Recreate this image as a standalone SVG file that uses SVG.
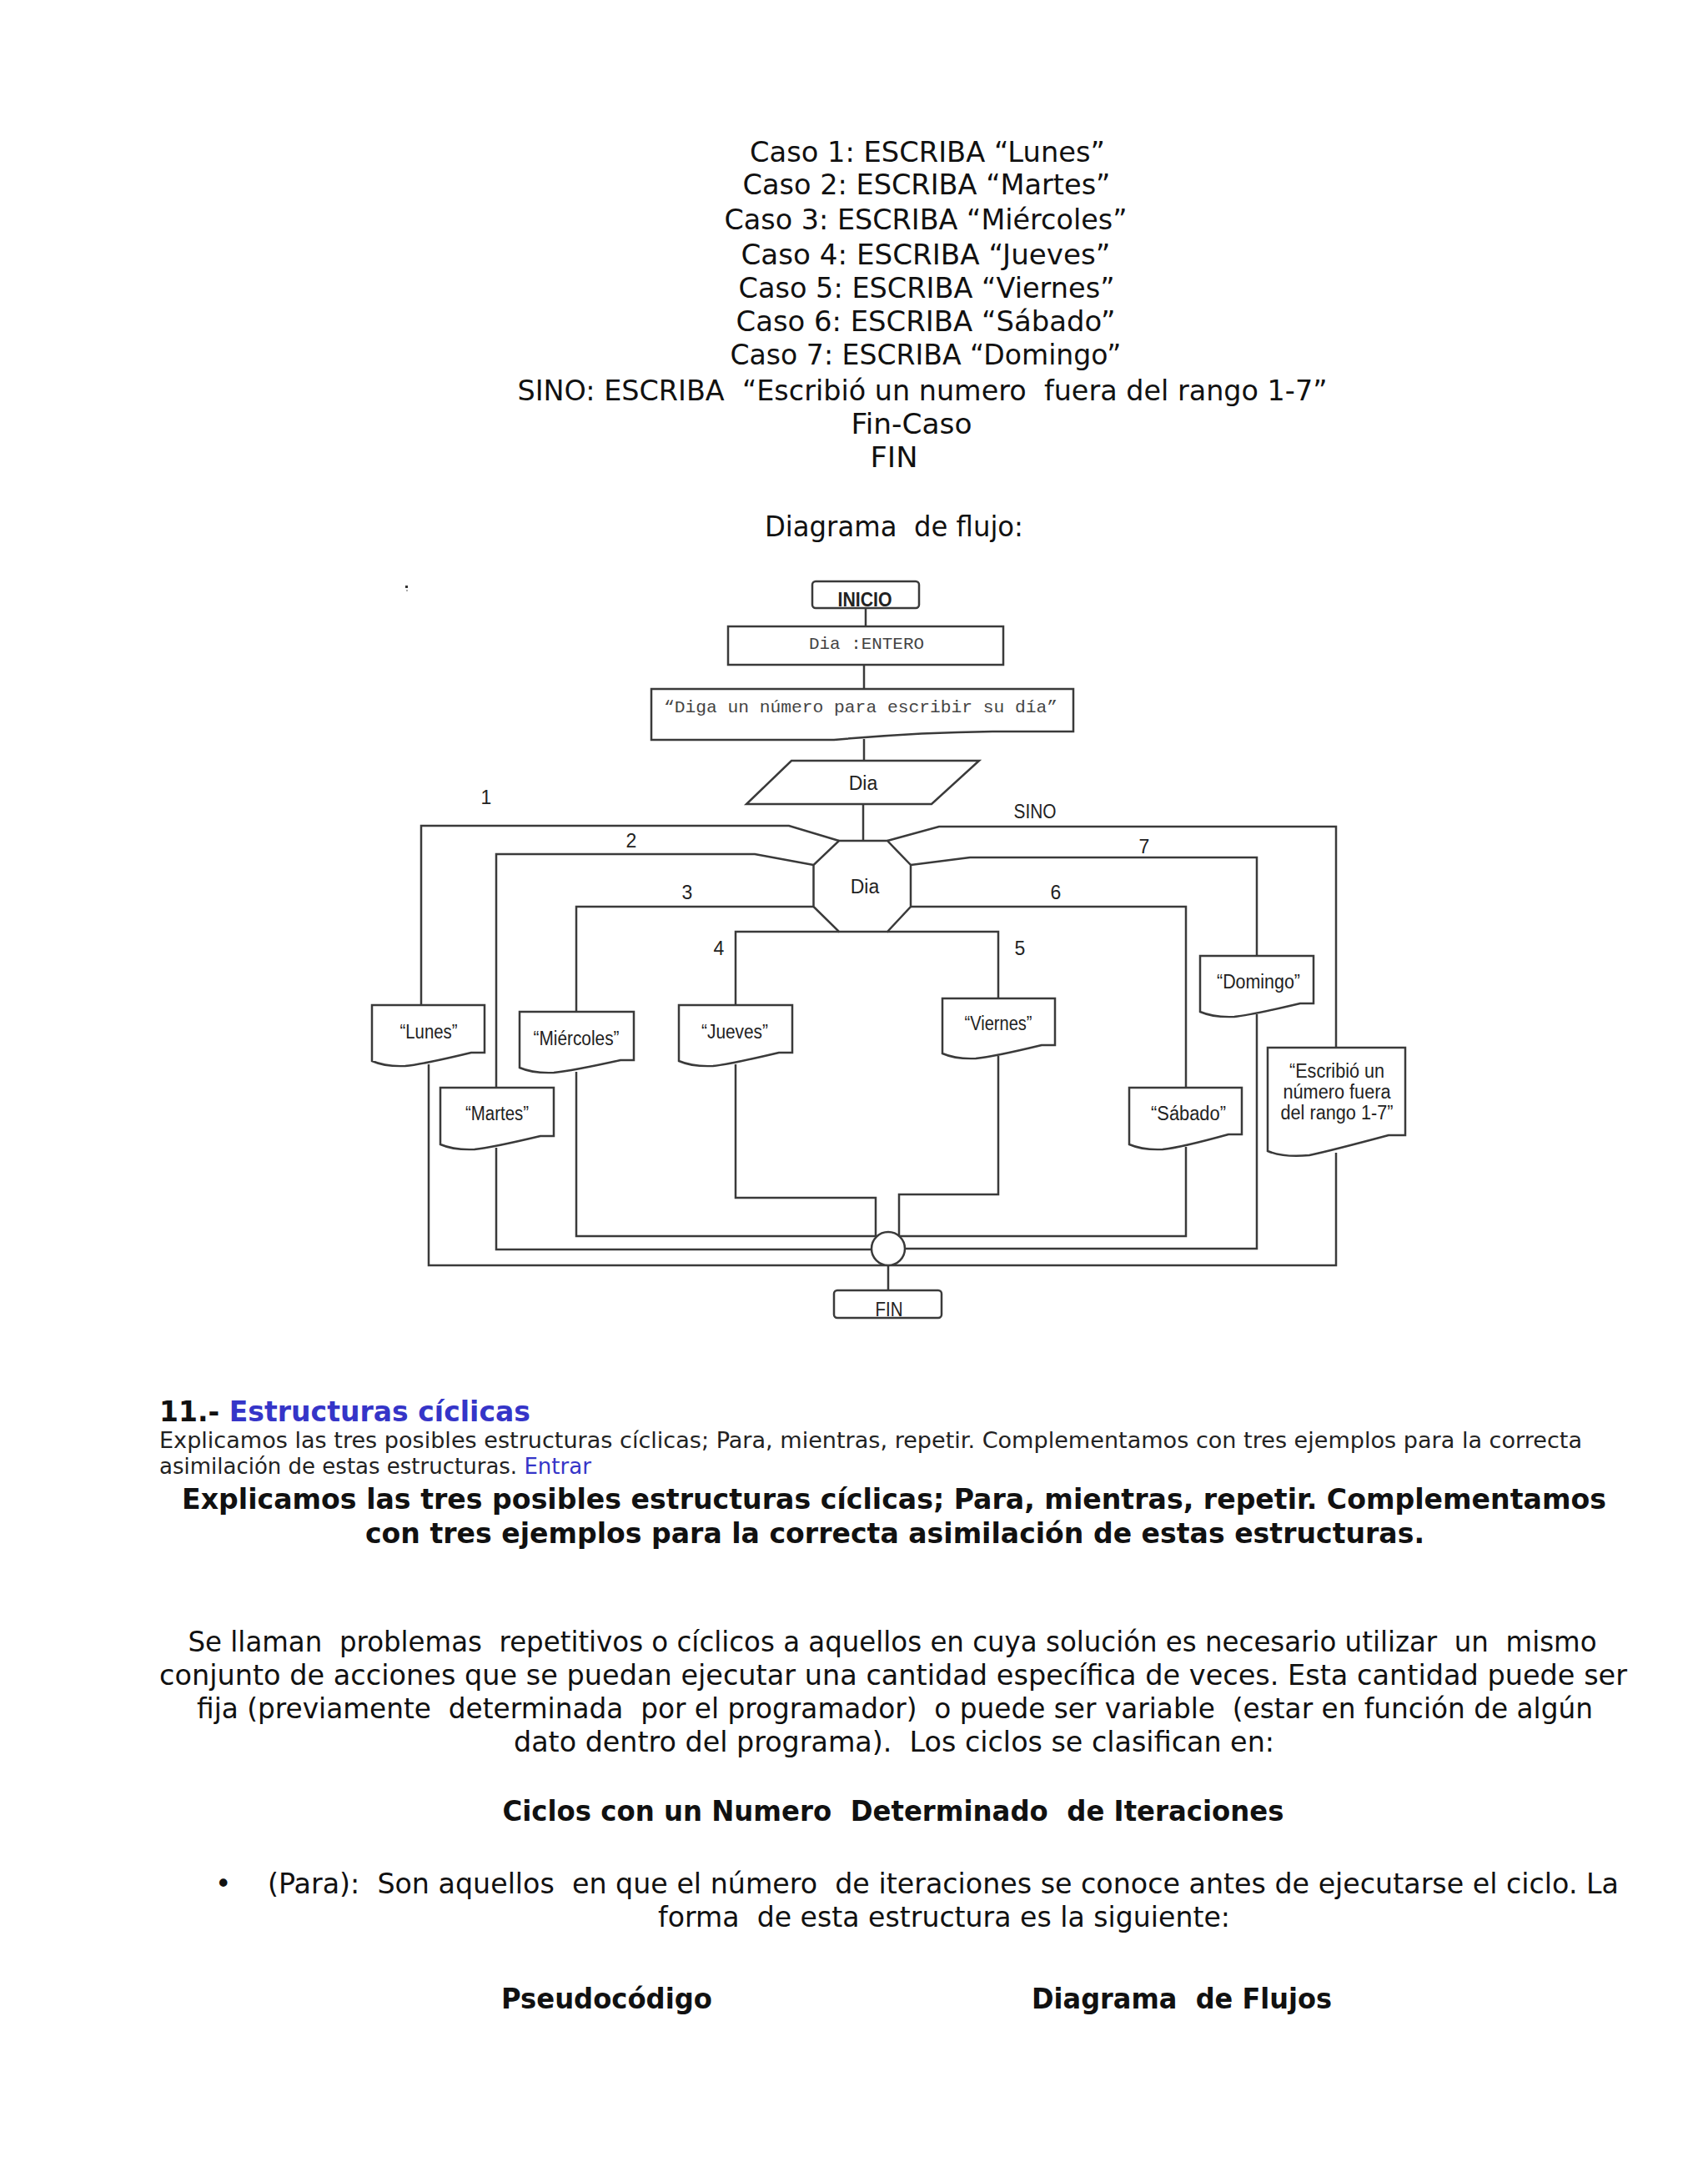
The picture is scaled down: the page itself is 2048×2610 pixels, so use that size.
<svg xmlns="http://www.w3.org/2000/svg" width="2048" height="2610" viewBox="0 0 2048 2610">
<style>
.body{font-family:"DejaVu Sans","Verdana",sans-serif;font-size:33px;fill:#111;}
.bold{font-family:"DejaVu Sans","Verdana",sans-serif;font-size:33px;font-weight:bold;fill:#111;}
.small{font-family:"DejaVu Sans","Verdana",sans-serif;font-size:26px;fill:#222;}
.blue{fill:#3535c8;}
.lbl{font-family:"Liberation Sans",Arial,sans-serif;font-size:23px;fill:#222;text-anchor:middle;}
.mono{font-family:"Liberation Mono","Courier New",monospace;font-size:21px;fill:#444;text-anchor:middle;}
.shape{fill:#fff;stroke:#3a3a3a;stroke-width:2.5;}
.wire{fill:none;stroke:#3a3a3a;stroke-width:2.5;}
.mid{text-anchor:middle;}
</style>
<rect width="2048" height="2610" fill="#fff"/>

<g id="pseudocode">
<text class="body mid" x="1112" y="194" textLength="426" lengthAdjust="spacingAndGlyphs">Caso 1: ESCRIBA “Lunes”</text>
<text class="body mid" x="1111" y="233" textLength="441" lengthAdjust="spacingAndGlyphs">Caso 2: ESCRIBA “Martes”</text>
<text class="body mid" x="1110" y="275" textLength="483" lengthAdjust="spacingAndGlyphs">Caso 3: ESCRIBA “Miércoles”</text>
<text class="body mid" x="1110" y="317" textLength="443" lengthAdjust="spacingAndGlyphs">Caso 4: ESCRIBA “Jueves”</text>
<text class="body mid" x="1111" y="357" textLength="451" lengthAdjust="spacingAndGlyphs">Caso 5: ESCRIBA “Viernes”</text>
<text class="body mid" x="1110" y="397" textLength="455" lengthAdjust="spacingAndGlyphs">Caso 6: ESCRIBA “Sábado”</text>
<text class="body mid" x="1110" y="437" textLength="469" lengthAdjust="spacingAndGlyphs">Caso 7: ESCRIBA “Domingo”</text>
<text class="body mid" x="1106" y="480" textLength="971" lengthAdjust="spacingAndGlyphs" xml:space="preserve">SINO: ESCRIBA  “Escribió un numero  fuera del rango 1-7”</text>
<text class="body mid" x="1093" y="520" textLength="145" lengthAdjust="spacingAndGlyphs">Fin-Caso</text>
<text class="body mid" x="1072" y="560" textLength="57" lengthAdjust="spacingAndGlyphs">FIN</text>
<text class="body mid" x="1072" y="643" textLength="310" lengthAdjust="spacingAndGlyphs" xml:space="preserve">Diagrama  de flujo:</text>
</g>

<rect x="486" y="702" width="3" height="3" fill="#333"/>
<rect x="487" y="707" width="2" height="2" fill="#aaa"/>

<g id="connectors">
<path class="wire" d="M1038,729 V751"/>
<path class="wire" d="M1036,797 V826"/>
<path class="wire" d="M1036,886 V912"/>
<path class="wire" d="M1035,964 V1008"/>
<path class="wire" d="M1006,1008 L946,990 H505 V1205"/>
<path class="wire" d="M975.5,1037 L905,1024 H595 V1304"/>
<path class="wire" d="M975.5,1087 H691 V1213"/>
<path class="wire" d="M1006,1117 H882 V1205"/>
<path class="wire" d="M1064,1117 H1197 V1197"/>
<path class="wire" d="M1092,1087 H1422 V1304"/>
<path class="wire" d="M1092,1037 L1163,1028 H1507 V1146"/>
<path class="wire" d="M1064,1008 L1126,991 H1602 V1256"/>
<path class="wire" d="M514,1276 V1517 H1065"/>
<path class="wire" d="M595,1376 V1498 H1065"/>
<path class="wire" d="M691,1285 V1482 H1065"/>
<path class="wire" d="M882,1276 V1436 H1050 V1482"/>
<path class="wire" d="M1197,1266 V1432 H1078 V1482"/>
<path class="wire" d="M1422,1375 V1482 H1065"/>
<path class="wire" d="M1507,1216 V1497 H1065"/>
<path class="wire" d="M1602,1382 V1517 H1065"/>
<path class="wire" d="M1065,1517 V1547"/>
<text class="lbl" x="583" y="964">1</text>
<text class="lbl" x="757" y="1016">2</text>
<text class="lbl" x="824" y="1078">3</text>
<text class="lbl" x="862" y="1145">4</text>
<text class="lbl" x="1223" y="1145">5</text>
<text class="lbl" x="1266" y="1078">6</text>
<text class="lbl" x="1372" y="1023">7</text>
<text class="lbl" x="1241" y="981" textLength="51" lengthAdjust="spacingAndGlyphs">SINO</text>
</g>

<g id="inicio">
<rect class="shape" x="974" y="697" width="128" height="32" rx="4"/>
<text class="lbl" x="1037" y="727" font-weight="bold" textLength="65" lengthAdjust="spacingAndGlyphs" style="font-size:24px">INICIO</text>
</g>
<g id="declaracion">
<rect class="shape" x="873" y="751" width="330" height="46"/>
<text class="mono" x="1039" y="778" textLength="138" lengthAdjust="spacingAndGlyphs">Dia :ENTERO</text>
</g>
<g id="mensaje">
<path class="shape" d="M781,826 H1287 V877 H1190 Q1100,878 1000,887 H781 Z"/>
<text class="mono" x="1032" y="854" textLength="472" lengthAdjust="spacingAndGlyphs">“Diga un número para escribir su día”</text>
</g>
<g id="leer">
<path class="shape" d="M949,912 H1174 L1117,964 H895 Z"/>
<text class="lbl" x="1035" y="947">Dia</text>
</g>
<g id="segun">
<path class="shape" d="M1006,1008 H1064 L1092,1037 V1087 L1064,1117 H1006 L975.5,1087 V1037 Z"/>
<text class="lbl" x="1037" y="1071">Dia</text>
</g>
<g id="lunes">
<path class="shape" d="M446,1205 H581 V1262 H565 Q507,1276 486,1278 Q462,1279 446,1272 Z"/>
<text class="lbl" x="514" y="1245" textLength="69" lengthAdjust="spacingAndGlyphs">“Lunes”</text>
</g>
<g id="martes">
<path class="shape" d="M528,1304 H664 V1362 H648 Q589,1376 569,1378 Q544,1379 528,1372 Z"/>
<text class="lbl" x="596" y="1343" textLength="76" lengthAdjust="spacingAndGlyphs">“Martes”</text>
</g>
<g id="miercoles">
<path class="shape" d="M623,1213 H760 V1271 H744 Q685,1284 664,1286 Q639,1287 623,1280 Z"/>
<text class="lbl" x="691" y="1253" textLength="103" lengthAdjust="spacingAndGlyphs">“Miércoles”</text>
</g>
<g id="jueves">
<path class="shape" d="M814,1205 H950 V1262 H934 Q875,1276 855,1278 Q830,1279 814,1272 Z"/>
<text class="lbl" x="881" y="1245" textLength="80" lengthAdjust="spacingAndGlyphs">“Jueves”</text>
</g>
<g id="viernes">
<path class="shape" d="M1130,1197 H1265 V1253 H1249 Q1191,1267 1170,1269 Q1146,1270 1130,1263 Z"/>
<text class="lbl" x="1197" y="1235" textLength="81" lengthAdjust="spacingAndGlyphs">“Viernes”</text>
</g>
<g id="sabado">
<path class="shape" d="M1354,1304 H1489 V1360 H1473 Q1415,1376 1394,1378 Q1370,1379 1354,1372 Z"/>
<text class="lbl" x="1425" y="1343" textLength="90" lengthAdjust="spacingAndGlyphs">“Sábado”</text>
</g>
<g id="domingo">
<path class="shape" d="M1439,1146 H1575 V1203 H1559 Q1500,1217 1480,1219 Q1455,1220 1439,1213 Z"/>
<text class="lbl" x="1509" y="1185" textLength="100" lengthAdjust="spacingAndGlyphs">“Domingo”</text>
</g>
<g id="fuera-rango">
<path class="shape" d="M1520,1256 H1685 V1361 H1665 Q1594,1380 1570,1385 Q1540,1388 1520,1380 Z"/>
<text class="lbl" x="1603" y="1292" textLength="114" lengthAdjust="spacingAndGlyphs">“Escribió un</text>
<text class="lbl" x="1603" y="1317" textLength="129" lengthAdjust="spacingAndGlyphs">número fuera</text>
<text class="lbl" x="1603" y="1342" textLength="135" lengthAdjust="spacingAndGlyphs">del rango 1-7”</text>
</g>
<g id="union">
<circle class="shape" cx="1065" cy="1497" r="20"/>
</g>
<g id="fin">
<rect class="shape" x="1000" y="1547" width="129" height="33" rx="4"/>
<text class="lbl" x="1066" y="1578" textLength="33" lengthAdjust="spacingAndGlyphs" style="font-size:24px">FIN</text>
</g>

<g id="texto">
<text class="bold" x="191" y="1704" textLength="445" lengthAdjust="spacingAndGlyphs">11.- <tspan class="blue">Estructuras cíclicas</tspan></text>
<text class="small" x="191" y="1736" textLength="1706" lengthAdjust="spacingAndGlyphs">Explicamos las tres posibles estructuras cíclicas; Para, mientras, repetir. Complementamos con tres ejemplos para la correcta</text>
<text class="small" x="191" y="1767">asimilación de estas estructuras. <tspan class="blue">Entrar</tspan></text>
<text class="bold mid" x="1072" y="1809" textLength="1708" lengthAdjust="spacingAndGlyphs">Explicamos las tres posibles estructuras cíclicas; Para, mientras, repetir. Complementamos</text>
<text class="bold mid" x="1073" y="1850" textLength="1270" lengthAdjust="spacingAndGlyphs">con tres ejemplos para la correcta asimilación de estas estructuras.</text>
<text class="body mid" x="1070" y="1980" textLength="1689" lengthAdjust="spacingAndGlyphs" xml:space="preserve">Se llaman  problemas  repetitivos o cíclicos a aquellos en cuya solución es necesario utilizar  un  mismo</text>
<text class="body mid" x="1071" y="2020" textLength="1760" lengthAdjust="spacingAndGlyphs">conjunto de acciones que se puedan ejecutar una cantidad específica de veces. Esta cantidad puede ser</text>
<text class="body mid" x="1073" y="2060" textLength="1674" lengthAdjust="spacingAndGlyphs" xml:space="preserve">fija (previamente  determinada  por el programador)  o puede ser variable  (estar en función de algún</text>
<text class="body mid" x="1072" y="2100" textLength="912" lengthAdjust="spacingAndGlyphs" xml:space="preserve">dato dentro del programa).  Los ciclos se clasifican en:</text>
<text class="bold mid" x="1071" y="2183" textLength="937" lengthAdjust="spacingAndGlyphs" xml:space="preserve">Ciclos con un Numero  Determinado  de Iteraciones</text>
<text class="body" x="258" y="2270">•</text>
<text class="body" x="321" y="2270" textLength="1620" lengthAdjust="spacingAndGlyphs" xml:space="preserve">(Para):  Son aquellos  en que el número  de iteraciones se conoce antes de ejecutarse el ciclo. La</text>
<text class="body mid" x="1132" y="2310" textLength="686" lengthAdjust="spacingAndGlyphs" xml:space="preserve">forma  de esta estructura es la siguiente:</text>
<text class="bold" x="601" y="2408" textLength="253" lengthAdjust="spacingAndGlyphs">Pseudocódigo</text>
<text class="bold" x="1237" y="2408" textLength="360" lengthAdjust="spacingAndGlyphs" xml:space="preserve">Diagrama  de Flujos</text>
</g>
</svg>
